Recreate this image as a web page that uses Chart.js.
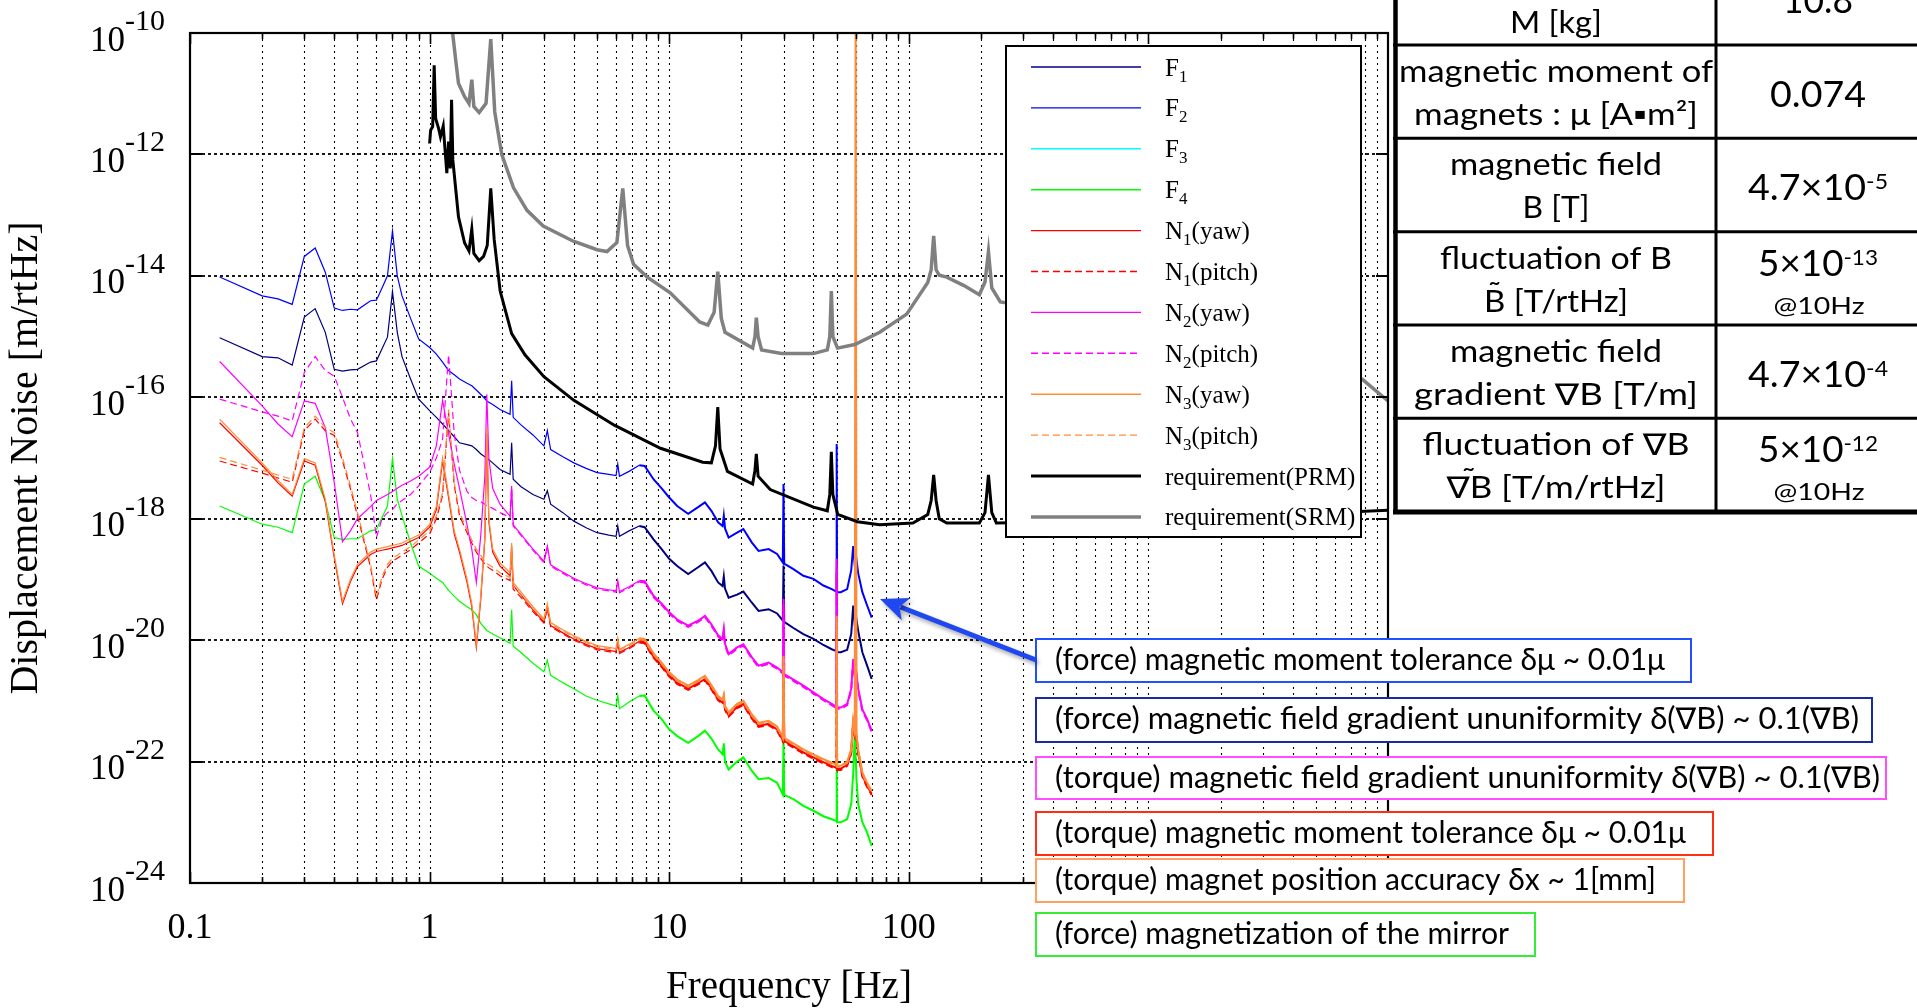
<!DOCTYPE html>
<html>
<head>
<meta charset="utf-8">
<title>Displacement noise</title>
<script src="https://cdn.jsdelivr.net/npm/chart.js@4.4.1/dist/chart.umd.min.js"></script>
<style>
  html, body { margin: 0; padding: 0; background: #fff; }
  canvas { display: block; }
</style>
</head>
<body>
<canvas id="noiseChart" width="1917" height="1008"></canvas>
<script>
'use strict';

// frequency grid shared by the measured noise curves [Hz]
const freqHz = [
  0.133, 0.2, 0.233, 0.267, 0.3, 0.333, 0.367, 0.4, 0.433, 0.467,
  0.5, 0.567, 0.6, 0.633, 0.667, 0.7, 0.733, 0.767, 0.833, 0.9,
  1.0, 1.067, 1.133, 1.2, 1.267, 1.333, 1.433, 1.5, 1.567, 1.633,
  1.7, 1.733, 1.767, 1.833, 1.967, 2.167, 2.2, 2.233, 2.4, 2.7,
  3.0, 3.1, 3.2, 3.6, 4.0, 4.5, 5.0, 5.6, 6.0, 6.1,
  6.2, 6.8, 7.5, 7.9, 8.6, 9.3, 10.0, 10.8, 12.0, 13.2,
  14.1, 15.0, 16.0, 16.7, 16.9, 17.1, 17.7, 19.2, 20.4, 22.1,
  23.6, 26.0, 28.2, 29.8, 30.0, 30.2, 33.0, 36.3, 40.0, 44.0,
  47.7, 49.8, 50.0, 50.2, 52.0, 55.3, 57.5, 58.6, 59.5, 60.0,
  60.5, 61.5, 64.0, 67.0, 70.0
];

// log10 of displacement noise [m/rtHz]
const logF1 = [
  -15.02, -15.33, -15.35, -15.47, -14.68, -14.54, -14.93, -15.54, -15.57, -15.55,
  -15.54, -15.42, -15.40, -15.20, -15.01, -14.26, -14.93, -15.33, -15.70, -16.03,
  -16.22, -16.33, -16.44, -16.55, -16.65, -16.75, -16.78, -16.80, -16.86, -16.93,
  -16.98, -17.00, -17.03, -17.08, -17.19, -17.27, -16.75, -17.35, -17.47, -17.60,
  -17.68, -17.54, -17.76, -17.90, -18.04, -18.15, -18.23, -18.27, -18.29, -18.12,
  -18.29, -18.20, -18.12, -18.14, -18.34, -18.50, -18.66, -18.78, -18.91, -18.80,
  -18.72, -18.86, -19.05, -19.11, -18.95, -19.15, -19.30, -19.25, -19.20, -19.38,
  -19.52, -19.49, -19.56, -19.68, -18.77, -19.70, -19.80, -19.90, -19.98, -20.08,
  -20.15, -20.18, -18.90, -20.20, -20.20, -20.16, -19.90, -19.43, -19.75, -19.72,
  -19.66, -19.85, -20.20, -20.42, -20.64
];
const logF2 = [
  -14.02, -14.33, -14.38, -14.47, -13.68, -13.54, -13.94, -14.53, -14.57, -14.55,
  -14.56, -14.41, -14.40, -14.20, -14.00, -13.26, -14.00, -14.33, -14.70, -15.04,
  -15.18, -15.29, -15.42, -15.56, -15.63, -15.70, -15.77, -15.81, -15.88, -15.95,
  -16.02, -16.06, -16.08, -16.12, -16.20, -16.28, -15.73, -16.33, -16.45, -16.62,
  -16.80, -16.55, -16.86, -16.98, -17.08, -17.17, -17.24, -17.27, -17.29, -17.10,
  -17.30, -17.22, -17.12, -17.13, -17.35, -17.50, -17.65, -17.79, -17.92, -17.81,
  -17.73, -17.87, -18.06, -18.12, -17.95, -18.16, -18.31, -18.23, -18.17, -18.39,
  -18.53, -18.50, -18.58, -18.72, -17.43, -18.74, -18.83, -18.94, -18.99, -19.10,
  -19.16, -19.20, -16.77, -19.21, -19.21, -19.16, -18.85, -18.45, -18.77, -18.75,
  -18.68, -18.90, -19.21, -19.43, -19.63
];
const logF3 = []; // below the plotted range
const logF4 = [
  -17.79, -18.09, -18.14, -18.23, -17.43, -17.30, -17.71, -18.31, -18.34, -18.33,
  -18.33, -18.20, -18.18, -17.98, -17.79, -17.01, -17.68, -17.95, -18.40, -18.78,
  -18.90, -18.98, -19.05, -19.18, -19.28, -19.36, -19.45, -19.50, -19.58, -19.72,
  -19.80, -19.84, -19.86, -19.90, -19.96, -20.05, -19.50, -20.10, -20.20, -20.38,
  -20.52, -20.33, -20.58, -20.70, -20.80, -20.92, -20.99, -21.05, -21.08, -20.91,
  -21.13, -21.02, -20.92, -20.91, -21.16, -21.30, -21.47, -21.58, -21.69, -21.58,
  -21.49, -21.62, -21.80, -21.88, -21.70, -22.00, -22.13, -22.00, -21.93, -22.15,
  -22.29, -22.27, -22.35, -22.54, -21.63, -22.55, -22.62, -22.73, -22.81, -22.90,
  -22.95, -22.98, -22.13, -23.00, -23.00, -22.95, -22.70, -22.20, -21.55, -21.90,
  -22.30, -22.70, -23.00, -23.17, -23.39
];
const logN1yaw = [
  -16.42, -17.12, -17.41, -17.63, -17.05, -17.12, -17.72, -18.64, -19.40, -19.04,
  -18.79, -18.59, -18.54, -18.52, -18.50, -18.48, -18.46, -18.44, -18.37, -18.31,
  -18.14, -17.85, -17.05, -17.65, -18.25, -18.55, -19.05, -19.45, -20.12, -19.35,
  -18.35, -16.60, -18.05, -18.55, -18.78, -18.94, -18.45, -19.10, -19.25, -19.50,
  -19.70, -19.45, -19.76, -19.88, -19.98, -20.07, -20.14, -20.17, -20.19, -20.02,
  -20.20, -20.12, -20.02, -20.03, -20.27, -20.42, -20.58, -20.70, -20.80, -20.71,
  -20.64, -20.79, -20.97, -21.03, -20.95, -21.13, -21.24, -21.10, -21.05, -21.27,
  -21.41, -21.38, -21.47, -21.65, -20.40, -21.66, -21.75, -21.85, -21.93, -22.01,
  -22.07, -22.10, -19.80, -22.12, -22.12, -22.05, -21.85, -21.35, -21.55, -21.50,
  -21.60, -21.85, -22.23, -22.40, -22.53
];
const logN1pitch = [
  -17.05, -17.25, -17.33, -17.40, -16.55, -16.36, -16.55, -16.63, -17.05, -17.50,
  -17.95, -18.80, -19.34, -19.00, -18.80, -18.70, -18.65, -18.60, -18.51, -18.40,
  -18.25, -18.00, -17.62, -16.25, -17.45, -17.95, -18.23, -18.40, -18.55, -18.65,
  -18.75, -18.78, -18.81, -18.85, -18.94, -19.02, -18.55, -19.16, -19.29, -19.53,
  -19.72, -19.48, -19.78, -19.90, -20.00, -20.09, -20.16, -20.19, -20.21, -20.04,
  -20.22, -20.14, -20.04, -20.05, -20.29, -20.44, -20.60, -20.72, -20.82, -20.73,
  -20.66, -20.81, -20.99, -21.05, -20.97, -21.15, -21.26, -21.12, -21.07, -21.29,
  -21.43, -21.40, -21.49, -21.67, -20.45, -21.68, -21.77, -21.87, -21.95, -22.03,
  -22.09, -22.12, -19.85, -22.14, -22.14, -22.07, -21.87, -21.38, -21.57, -21.52,
  -21.62, -21.87, -22.25, -22.42, -22.55
];
const logN2yaw = [
  -15.41, -16.14, -16.44, -16.65, -16.06, -16.10, -16.50, -17.40, -18.38, -18.20,
  -18.00, -17.80, -17.70, -17.65, -17.60, -17.55, -17.50, -17.45, -17.38, -17.30,
  -17.15, -16.80, -16.05, -16.60, -17.10, -17.50, -18.10, -18.50, -19.05, -18.30,
  -17.30, -15.95, -17.00, -17.50, -17.76, -17.96, -17.46, -18.10, -18.25, -18.50,
  -18.70, -18.45, -18.76, -18.88, -18.98, -19.07, -19.14, -19.17, -19.19, -19.02,
  -19.20, -19.12, -19.02, -19.03, -19.27, -19.40, -19.54, -19.66, -19.76, -19.68,
  -19.60, -19.74, -19.92, -19.98, -19.82, -20.06, -20.23, -20.12, -20.07, -20.28,
  -20.42, -20.37, -20.45, -20.53, -19.32, -20.56, -20.65, -20.75, -20.86, -20.97,
  -21.05, -21.10, -18.66, -21.11, -21.11, -21.05, -20.80, -20.31, -20.60, -20.60,
  -20.55, -20.80, -21.14, -21.30, -21.49
];
const logN2pitch = [
  -16.03, -16.24, -16.31, -16.39, -15.59, -15.33, -15.56, -15.65, -16.00, -16.35,
  -16.58, -17.60, -18.31, -18.00, -17.90, -17.85, -17.75, -17.70, -17.60, -17.46,
  -17.24, -17.00, -16.69, -15.30, -16.60, -17.20, -17.55, -17.65, -17.70, -17.72,
  -17.76, -17.79, -17.80, -17.83, -17.90, -17.98, -17.48, -18.12, -18.27, -18.52,
  -18.72, -18.47, -18.78, -18.90, -19.00, -19.09, -19.16, -19.19, -19.21, -19.05,
  -19.22, -19.14, -19.04, -19.05, -19.29, -19.42, -19.56, -19.68, -19.78, -19.70,
  -19.62, -19.76, -19.94, -20.00, -19.85, -20.08, -20.25, -20.14, -20.09, -20.30,
  -20.44, -20.39, -20.47, -20.55, -19.40, -20.58, -20.67, -20.77, -20.88, -20.99,
  -21.07, -21.12, -18.80, -21.13, -21.13, -21.07, -20.83, -20.35, -20.63, -20.62,
  -20.58, -20.83, -21.16, -21.32, -21.51
];
const logN3yaw = [
  -16.36, -17.08, -17.37, -17.60, -17.01, -17.08, -17.68, -18.60, -19.36, -19.00,
  -18.75, -18.55, -18.50, -18.48, -18.46, -18.44, -18.42, -18.40, -18.33, -18.27,
  -18.10, -17.80, -17.00, -17.60, -18.20, -18.50, -19.00, -19.40, -20.07, -19.30,
  -18.30, -16.50, -18.00, -18.50, -18.73, -18.89, -18.40, -19.05, -19.20, -19.45,
  -19.65, -19.40, -19.71, -19.83, -19.93, -20.02, -20.09, -20.12, -20.14, -19.97,
  -20.15, -20.07, -19.97, -19.98, -20.22, -20.37, -20.53, -20.65, -20.75, -20.66,
  -20.59, -20.74, -20.92, -20.98, -20.90, -21.08, -21.19, -21.05, -21.00, -21.22,
  -21.36, -21.33, -21.42, -21.60, -20.26, -21.61, -21.70, -21.80, -21.88, -21.96,
  -22.02, -22.05, -19.60, -22.07, -22.07, -22.00, -21.80, -21.30, -21.50, -9.00,
  -21.55, -21.80, -22.18, -22.35, -22.48
];
const logN3pitch = [
  -16.99, -17.20, -17.28, -17.35, -16.50, -16.31, -16.50, -16.58, -17.00, -17.45,
  -17.90, -18.75, -19.29, -18.95, -18.75, -18.65, -18.60, -18.55, -18.46, -18.35,
  -18.20, -17.95, -17.57, -16.20, -17.40, -17.90, -18.18, -18.35, -18.50, -18.60,
  -18.70, -18.73, -18.76, -18.80, -18.89, -18.97, -18.50, -19.11, -19.24, -19.48,
  -19.67, -19.43, -19.73, -19.85, -19.95, -20.04, -20.11, -20.14, -20.16, -19.99,
  -20.17, -20.09, -19.99, -20.00, -20.24, -20.39, -20.55, -20.67, -20.77, -20.68,
  -20.61, -20.76, -20.94, -21.00, -20.92, -21.10, -21.21, -21.07, -21.02, -21.24,
  -21.38, -21.35, -21.44, -21.62, -20.30, -21.63, -21.72, -21.82, -21.90, -21.98,
  -22.04, -22.07, -19.70, -22.09, -22.09, -22.02, -21.82, -21.33, -21.52, -21.45,
  -21.57, -21.82, -22.20, -22.37, -22.50
];

// requirement curves
const prmFreq = [
  1.0, 1.01, 1.03, 1.045, 1.06, 1.09, 1.11, 1.14, 1.18, 1.2,
  1.22, 1.235, 1.25, 1.32, 1.4, 1.46, 1.5, 1.53, 1.61, 1.68,
  1.74, 1.8, 1.86, 1.97, 2.2, 2.5, 3.0, 4.0, 5.9, 9.2,
  13.8, 15.0, 15.6, 15.95, 16.3, 17.5, 22.3, 22.8, 23.1, 23.5,
  26.4, 40.0, 45.7, 46.8, 47.5, 48.2, 50.5, 61.0, 75.6, 104,
  120, 124, 127, 130, 134, 144, 197, 208, 215, 222,
  232, 500, 1000, 3000, 10000
];
const prmLog = [
  -11.82, -11.60, -11.54, -10.53, -11.41, -11.57, -11.71, -11.53, -12.31, -11.79,
  -12.23, -11.10, -12.09, -13.03, -13.46, -13.59, -13.23, -13.63, -13.75, -13.68,
  -13.50, -12.56, -13.40, -14.25, -14.95, -15.30, -15.66, -16.05, -16.46, -16.84,
  -17.07, -17.08, -16.80, -16.16, -16.85, -17.22, -17.43, -17.20, -16.93, -17.30,
  -17.52, -17.81, -17.87, -17.60, -16.90, -17.60, -17.93, -18.05, -18.10, -18.07,
  -17.93, -17.70, -17.28, -17.70, -18.00, -18.07, -18.07, -17.90, -17.28, -17.90,
  -18.07, -18.05, -18.02, -17.95, -17.86
];
const srmFreq = [
  1.0, 1.2, 1.25, 1.29, 1.32, 1.4, 1.46, 1.5, 1.53, 1.61,
  1.72, 1.8, 1.87, 2.0, 2.24, 2.55, 2.98, 3.98, 5.0, 5.5,
  6.05, 6.4, 6.7, 7.1, 8.1, 10.1, 13.4, 14.5, 15.4, 15.95,
  16.5, 17.1, 22.3, 22.8, 23.1, 23.5, 24.3, 29.4, 40.0, 45.7,
  46.8, 47.5, 48.2, 50.4, 59.5, 75.6, 98, 120, 124, 127,
  130, 134, 144, 170, 197, 208, 215, 222, 241, 1000,
  3000, 7800, 10000
];
const srmLog = [
  -9.00, -9.75, -10.03, -10.50, -10.83, -11.05, -11.16, -10.77, -11.21, -11.31,
  -11.16, -10.10, -11.30, -12.00, -12.55, -12.92, -13.18, -13.43, -13.57, -13.60,
  -13.45, -12.56, -13.50, -13.81, -14.02, -14.28, -14.76, -14.81, -14.60, -13.93,
  -14.70, -14.93, -15.19, -15.00, -14.69, -15.00, -15.22, -15.28, -15.28, -15.22,
  -15.00, -14.25, -15.00, -15.19, -15.13, -14.93, -14.63, -14.11, -13.90, -13.34,
  -13.90, -13.99, -14.02, -14.16, -14.31, -14.10, -13.60, -14.20, -14.43, -14.80,
  -15.20, -15.70, -16.06
];

const seriesLabels = ['F1', 'F2', 'F3', 'F4', 'N1(yaw)', 'N1(pitch)', 'N2(yaw)', 'N2(pitch)',
  'N3(yaw)', 'N3(pitch)', 'requirement(PRM)', 'requirement(SRM)'];
const xTickValues = [0.1, 1, 10, 100, 1000, 10000];
const xTickLabels = ['0.1', '1', '10', '100', '1000', '10000'];
const yTickExponents = [-10, -12, -14, -16, -18, -20, -22, -24];

// table text; a "~" entry in a label line means a tilde placed over the previous glyph
const tableRows = [
  { label: [['M [kg]']], value: '10.8' },
  { label: [['magnetic moment of'], ['magnets : μ [A▪m²]']], value: '0.074' },
  { label: [['magnetic field'], ['B [T]']], value: '4.7×10', sup: '-5' },
  { label: [['fluctuation of B'], ['B', '~', ' [T/rtHz]']], value: '5×10', sup: '-13', note: '@10Hz' },
  { label: [['magnetic field'], ['gradient ∇B [T/m]']], value: '4.7×10', sup: '-4' },
  { label: [['fluctuation of ∇B'], ['∇', '~', 'B [T/m/rtHz]']], value: '5×10', sup: '-12', note: '@10Hz' }
];

const annotationTexts = [
  '(force) magnetic moment tolerance δμ ~ 0.01μ',
  '(force) magnetic field gradient ununiformity δ(∇B) ~ 0.1(∇B)',
  '(torque) magnetic field gradient ununiformity δ(∇B) ~ 0.1(∇B)',
  '(torque) magnetic moment tolerance δμ ~ 0.01μ',
  '(torque) magnet position accuracy δx ~ 1[mm]',
  '(force) magnetization of the mirror'
];

const serif = '"Liberation Serif", "Times New Roman", serif';
const sans = 'Lato, "Open Sans", "DejaVu Sans", sans-serif';

const seriesStyle = [
  { color: '#000080', width: 1.2 },
  { color: '#0000ff', width: 1.2 },
  { color: '#00ffff', width: 1.2 },
  { color: '#00ff00', width: 1.2 },
  { color: '#ff0000', width: 1.2 },
  { color: '#ff0000', width: 1.2, dash: [7, 4] },
  { color: '#ff00ff', width: 1.2 },
  { color: '#ff00ff', width: 1.2, dash: [7, 4] },
  { color: '#ff8c38', width: 1.2 },
  { color: '#ff8c38', width: 1.2, dash: [7, 4] },
  { color: '#000000', width: 3 },
  { color: '#808080', width: 3.5 }
];

const toPoints = (fs, logs) => logs.map((v, i) => ({ x: fs[i], y: Math.pow(10, v) }));

const seriesData = [
  toPoints(freqHz, logF1), toPoints(freqHz, logF2), toPoints(freqHz, logF3), toPoints(freqHz, logF4),
  toPoints(freqHz, logN1yaw), toPoints(freqHz, logN1pitch), toPoints(freqHz, logN2yaw), toPoints(freqHz, logN2pitch),
  toPoints(freqHz, logN3yaw), toPoints(freqHz, logN3pitch), toPoints(prmFreq, prmLog), toPoints(srmFreq, srmLog)
];

// draws a run of text pieces (base / sub / sup), optionally squeezed to a width
const drawParts = (ctx, parts, x, y, align, width) => {
  ctx.save();
  let total = 0;
  parts.forEach(p => {
    ctx.font = p.font;
    p.w = ctx.measureText(p.t).width;
    if (!p.over) total += p.w;
  });
  const sx = width ? width / total : 1;
  let start = x;
  if (align === 'center') start = x - total * sx / 2;
  if (align === 'right') start = x - total * sx;
  ctx.translate(start, y);
  ctx.scale(sx, 1);
  ctx.textAlign = 'left';
  ctx.textBaseline = 'alphabetic';
  let cx = 0;
  let prevW = 0;
  parts.forEach(p => {
    ctx.font = p.font;
    if (p.over) {
      ctx.fillText(p.t, cx - prevW / 2 - p.w / 2 + (p.shift || 0), p.dy || 0);
      return;
    }
    ctx.fillText(p.t, cx, p.dy || 0);
    cx += p.w;
    prevW = p.w;
  });
  ctx.restore();
};

const labelParts = (pieces, font) => pieces.map((t, i) => {
  if (t === '~') {
    const shift = pieces[i - 1] === '∇' ? 9 : 0;
    return { t: '˜', font: font, dy: -8, over: true, shift: shift };
  }
  return { t: t, font: font };
});

const legendParts = (label) => {
  const m = label.match(/^([A-Z])(\d)(.*)$/);
  if (!m) return [{ t: label, font: '25px ' + serif }];
  return [
    { t: m[1], font: '25px ' + serif },
    { t: m[2], font: '17px ' + serif, dy: 6 },
    { t: m[3], font: '25px ' + serif }
  ];
};

const drawGrid = (chart) => {
  const ctx = chart.ctx;
  const { left, right, top, bottom } = chart.chartArea;
  const xs = chart.scales.x;
  const ys = chart.scales.y;
  ctx.save();
  ctx.strokeStyle = '#000';
  ctx.lineWidth = 1.1;
  ctx.setLineDash([2, 4]);
  for (let d = -1; d <= 3; d++) {
    for (let m = 1; m <= 9; m++) {
      const v = m * Math.pow(10, d);
      if (v <= 0.1 || v >= 10000) continue;
      const px = Math.round(xs.getPixelForValue(v)) + 0.5;
      ctx.beginPath();
      ctx.moveTo(px, top);
      ctx.lineTo(px, bottom);
      ctx.stroke();
    }
  }
  ctx.lineWidth = 1.8;
  ctx.setLineDash([3, 3]);
  yTickExponents.forEach(e => {
    if (e === -10 || e === -24) return;
    const py = Math.round(ys.getPixelForValue(Math.pow(10, e)));
    ctx.beginPath();
    ctx.moveTo(left, py);
    ctx.lineTo(right, py);
    ctx.stroke();
  });
  ctx.restore();
};

const drawAxes = (chart) => {
  const ctx = chart.ctx;
  const { left, right, top, bottom } = chart.chartArea;
  const xs = chart.scales.x;
  const ys = chart.scales.y;
  ctx.save();
  ctx.strokeStyle = '#000';
  ctx.lineWidth = 2.2;
  ctx.strokeRect(left, top, right - left, bottom - top);

  // ticks on all four sides
  ctx.lineWidth = 1.6;
  for (let d = -1; d <= 3; d++) {
    for (let m = 1; m <= 9; m++) {
      const v = m * Math.pow(10, d);
      if (v < 0.1 || v > 10000) continue;
      const px = Math.round(xs.getPixelForValue(v)) + 0.5;
      const len = m === 1 ? 11 : 6;
      ctx.beginPath();
      ctx.moveTo(px, bottom); ctx.lineTo(px, bottom - len);
      ctx.moveTo(px, top); ctx.lineTo(px, top + len);
      ctx.stroke();
    }
  }
  ctx.lineWidth = 2;
  yTickExponents.forEach(e => {
    const py = Math.round(ys.getPixelForValue(Math.pow(10, e)));
    ctx.beginPath();
    ctx.moveTo(left, py); ctx.lineTo(left + 12, py);
    ctx.moveTo(right, py); ctx.lineTo(right - 12, py);
    ctx.stroke();
  });

  // tick labels
  ctx.fillStyle = '#000';
  xTickValues.forEach((v, i) => {
    drawParts(ctx, [{ t: xTickLabels[i], font: '36px ' + serif }], xs.getPixelForValue(v), 938, 'center');
  });
  yTickExponents.forEach(e => {
    const py = ys.getPixelForValue(Math.pow(10, e));
    drawParts(ctx, [
      { t: '10', font: '35px ' + serif },
      { t: String(e), font: '30px ' + serif, dy: -20.5 }
    ], 165, py + 17.5, 'right');
  });

  // axis titles
  ctx.font = '39px ' + serif;
  ctx.textAlign = 'center';
  ctx.textBaseline = 'alphabetic';
  ctx.fillText('Frequency [Hz]', (left + right) / 2, 998);
  ctx.save();
  ctx.translate(37, (top + bottom) / 2);
  ctx.rotate(-Math.PI / 2);
  ctx.font = '40px ' + serif;
  ctx.fillText('Displacement Noise [m/rtHz]', 0, 0);
  ctx.restore();
  ctx.restore();
};

const drawLegend = (chart) => {
  const ctx = chart.ctx;
  ctx.save();
  ctx.fillStyle = '#fff';
  ctx.fillRect(1006, 46, 355, 491);
  ctx.strokeStyle = '#000';
  ctx.lineWidth = 2;
  ctx.strokeRect(1006, 46, 355, 491);
  chart.data.datasets.forEach((ds, i) => {
    const cy = 67 + i * 40.9;
    ctx.strokeStyle = ds.borderColor;
    ctx.lineWidth = i >= 10 ? ds.borderWidth : 1.4;
    ctx.setLineDash(ds.borderDash || []);
    ctx.beginPath();
    ctx.moveTo(1031, cy);
    ctx.lineTo(1141, cy);
    ctx.stroke();
    ctx.setLineDash([]);
    ctx.fillStyle = '#000';
    drawParts(ctx, legendParts(ds.label), 1165, cy + 8.5, 'left');
  });
  ctx.restore();
};

const drawTable = (chart) => {
  const ctx = chart.ctx;
  const rowTops = [-48, 45, 138.3, 231.7, 325, 418.3];
  const labelWidths = [[92], [314, 284], [212, 67], [232, 144], [212, 284], [267, 219]];
  const valueWidths = [70, 96, 140, 120, 140, 120];
  const labelFont = '30px ' + sans;
  ctx.save();
  ctx.fillStyle = '#fff';
  ctx.fillRect(1393, 0, 524, 514);
  ctx.fillStyle = '#000';
  tableRows.forEach((row, i) => {
    const top = rowTops[i];
    if (row.label.length === 1) {
      drawParts(ctx, labelParts(row.label[0], labelFont), 1556, top + 81, 'center', labelWidths[i][0]);
    } else {
      drawParts(ctx, labelParts(row.label[0], labelFont), 1556, top + 37, 'center', labelWidths[i][0]);
      drawParts(ctx, labelParts(row.label[1], labelFont), 1556, top + 80, 'center', labelWidths[i][1]);
    }
    const parts = [{ t: row.value, font: '36px ' + sans }];
    if (row.sup) parts.push({ t: row.sup, font: '22px ' + sans, dy: -11 });
    let vy = top + 62;
    if (i === 0) vy = 13;
    if (row.note) vy = top + 44;
    drawParts(ctx, parts, 1818, vy, 'center', valueWidths[i]);
    if (row.note) drawParts(ctx, [{ t: row.note, font: '24px ' + sans }], 1819, top + 82, 'center', 91);
  });
  ctx.strokeStyle = '#000';
  ctx.lineWidth = 3;
  [45, 138.3, 231.7, 325, 418.3].forEach(y => {
    ctx.beginPath(); ctx.moveTo(1393, y); ctx.lineTo(1917, y); ctx.stroke();
  });
  ctx.lineWidth = 5;
  ctx.beginPath(); ctx.moveTo(1393, 512); ctx.lineTo(1917, 512); ctx.stroke();
  ctx.lineWidth = 4.5;
  ctx.beginPath(); ctx.moveTo(1395.5, 0); ctx.lineTo(1395.5, 514); ctx.stroke();
  ctx.lineWidth = 3;
  ctx.beginPath(); ctx.moveTo(1716, 0); ctx.lineTo(1716, 512); ctx.stroke();
  ctx.restore();
};

const drawAnnotations = (chart) => {
  const ctx = chart.ctx;
  const boxes = [
    { top: 639, bottom: 682, right: 1691, textW: 610, color: '#2050ff' },
    { top: 698, bottom: 742, right: 1872, textW: 804, color: '#1a2b9e' },
    { top: 757, bottom: 799, right: 1886, textW: 825, color: '#ff4dff' },
    { top: 812, bottom: 855, right: 1713, textW: 631, color: '#ff3010' },
    { top: 859, bottom: 902, right: 1684, textW: 601, color: '#ffa060' },
    { top: 913, bottom: 956, right: 1535, textW: 454, color: '#33ee33' }
  ];
  ctx.save();
  boxes.forEach((b, i) => {
    ctx.fillStyle = '#fff';
    ctx.fillRect(1036, b.top, b.right - 1036, b.bottom - b.top);
    ctx.strokeStyle = b.color;
    ctx.lineWidth = 2;
    ctx.strokeRect(1036, b.top, b.right - 1036, b.bottom - b.top);
    ctx.fillStyle = '#000';
    drawParts(ctx, [{ t: annotationTexts[i], font: '30px ' + sans }], 1055, b.top + 31, 'left', b.textW);
  });

  // arrow pointing at the F2 curve
  const tail = { x: 1036, y: 660 };
  const tip = { x: 880, y: 599 };
  const dx = tip.x - tail.x, dy = tip.y - tail.y;
  const len = Math.hypot(dx, dy);
  const ux = dx / len, uy = dy / len;
  const nx = -uy, ny = ux;
  const headL = 28, headW = 12;
  const bx = tip.x - ux * headL, by = tip.y - uy * headL;
  ctx.shadowColor = 'rgba(0, 0, 0, 0.35)';
  ctx.shadowBlur = 4;
  ctx.shadowOffsetX = 2;
  ctx.shadowOffsetY = 3;
  ctx.strokeStyle = '#1f48f0';
  ctx.fillStyle = '#1f48f0';
  ctx.lineWidth = 5;
  ctx.beginPath();
  ctx.moveTo(tail.x, tail.y);
  ctx.lineTo(bx + ux * 6, by + uy * 6);
  ctx.stroke();
  ctx.beginPath();
  ctx.moveTo(tip.x, tip.y);
  ctx.lineTo(bx + nx * headW, by + ny * headW);
  ctx.lineTo(bx + ux * 7, by + uy * 7);
  ctx.lineTo(bx - nx * headW, by - ny * headW);
  ctx.closePath();
  ctx.fill();
  ctx.restore();
};

const decorPlugin = {
  id: 'decor',
  beforeDraw(chart) {
    const ctx = chart.ctx;
    ctx.save();
    ctx.fillStyle = '#fff';
    ctx.fillRect(0, 0, chart.width, chart.height);
    ctx.restore();
  },
  beforeDatasetsDraw(chart) {
    drawGrid(chart);
  },
  afterDatasetsDraw(chart) {
    drawAxes(chart);
    drawLegend(chart);
    drawTable(chart);
    drawAnnotations(chart);
  }
};

// the measured spectra get denser (thicker looking) above a few Hz
const noisyWidth = (ctx, base) => (ctx.p0.parsed.x >= 7 ? base + 0.8 : base);

const ctx = document.getElementById('noiseChart').getContext('2d');
const noiseChart = new Chart(ctx, {
  type: 'line',
  data: {
    datasets: seriesLabels.map((label, i) => ({
      label: label,
      data: seriesData[i],
      borderColor: seriesStyle[i].color,
      borderWidth: seriesStyle[i].width,
      borderDash: seriesStyle[i].dash || [],
      segment: i < 10 ? { borderWidth: c => noisyWidth(c, seriesStyle[i].width) } : {},
      pointRadius: 0,
      tension: 0,
      fill: false,
      order: seriesLabels.length - i
    }))
  },
  options: {
    responsive: false,
    animation: false,
    devicePixelRatio: 1,
    layout: { padding: { left: 190, top: 33, right: 529, bottom: 125 } },
    plugins: { legend: { display: false }, tooltip: { enabled: false } },
    scales: {
      x: { type: 'logarithmic', min: 0.1, max: 10000, display: false },
      y: { type: 'logarithmic', min: 1e-24, max: 1e-10, display: false }
    }
  },
  plugins: [decorPlugin]
});
</script>
</body>
</html>
